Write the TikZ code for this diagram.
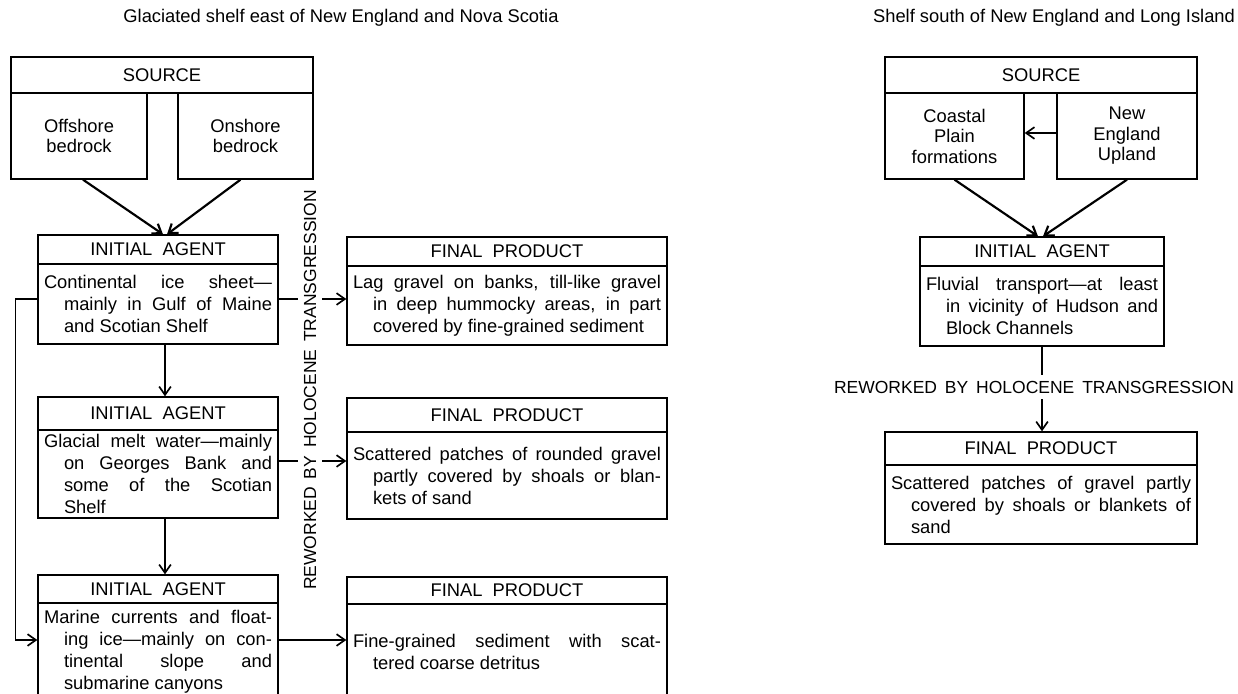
\documentclass[tikz,border=0pt]{standalone}
\usepackage{fontspec}
\setmainfont{Liberation Sans}
\usetikzlibrary{arrows.meta,calc}
\newcommand\hangtx[1]{\leavevmode\hangindent=12pt\hangafter=1\relax#1\par}
\newcommand\rwtext{REWORKED\hspace{0.45em}BY\hspace{0.45em}HOLOCENE\hspace{0.45em}TRANSGRESSION}

\begin{document}
\begin{tikzpicture}[x=0.6pt,y=-0.6pt,every node/.style={font=\fontsize{11}{13.2}\selectfont},
hd/.style 2 args={draw,line width=0.8pt,inner sep=0pt,minimum width=#1,minimum height=#2},
bd/.style 2 args={draw,line width=0.8pt,text width=#1,inner xsep=3.6pt,inner ysep=0pt,minimum height=#2,align=justify},
srcbox/.style 2 args={draw,line width=0.8pt,inner sep=0pt,minimum width=#1,minimum height=#2,align=center,font=\fontsize{11}{12.3}\selectfont},
arr/.style={-{Straight Barb[length=5pt,width=7pt]},line width=1pt},
thk/.style={arr,line width=1.3pt},
rw/.style={fill=white,inner sep=3.5pt,font=\fontsize{10.5}{12}\selectfont}]
\clip (0,0) rectangle (1238,693);
\node (t1) at (341,18) {Glaciated shelf east of New England and Nova Scotia};
\node (t2) at (1054,18) {Shelf south of New England and Long Island};
% left diagram
\node[hd={181.2pt}{21.6pt}] (src) at (162,75) {SOURCE};
\node[srcbox={81.6pt}{51.6pt}] (offsh) at (79,136) {Offshore\\bedrock};
\node[srcbox={81pt}{51.6pt}] (onsh) at (245.5,136) {Onshore\\bedrock};
\node[hd={144pt}{17.4pt}] (ag1h) at (158,249.5) {INITIAL\ \ AGENT};
\node[bd={136.8pt}{48pt}] (ag1) at (158,304) {\hangtx{Continental ice sheet—\linebreak mainly in Gulf of Maine\linebreak and Scotian Shelf}};
\node[hd={144pt}{19.8pt}] (ag2h) at (158,413.5) {INITIAL\ \ AGENT};
\node[bd={136.8pt}{52.8pt}] (ag2) at (158,474) {\hangtx{Glacial melt water—mainly\linebreak on Georges Bank and\linebreak some of the Scotian\linebreak Shelf}};
\node[hd={144pt}{16.8pt}] (ag3h) at (158,589) {INITIAL\ \ AGENT};
\node[bd={136.8pt}{58.2pt}] (ag3) at (158,651.5) {\hangtx{Marine currents and float-\linebreak ing ice—mainly on con-\linebreak tinental slope and\linebreak submarine canyons}};
\node[hd={192pt}{17.4pt}] (fp1h) at (507,251.5) {FINAL\ \ PRODUCT};
\node[bd={184.8pt}{47.4pt}] (fp1) at (507,305.5) {\hangtx{Lag gravel on banks, till-like gravel\linebreak in deep hummocky areas, in part\linebreak covered by fine-grained sediment}};
\node[hd={192pt}{20.4pt}] (fp2h) at (507,415) {FINAL\ \ PRODUCT};
\node[bd={184.8pt}{52.2pt}] (fp2) at (507,475.5) {\hangtx{Scattered patches of rounded gravel\linebreak partly covered by shoals or blan-\linebreak kets of sand}};
\node[hd={192pt}{16.2pt}] (fp3h) at (507,590.5) {FINAL\ \ PRODUCT};
\node[bd={184.8pt}{57.6pt}] (fp3) at (507,652) {\hangtx{Fine-grained sediment with scat-\linebreak tered coarse detritus}};
\draw[thk] ($(offsh.south)+(4,0)$) -- ($(ag1h.north)+(5,0)$);
\draw[thk] ($(onsh.south)+(-5,0)$) -- ($(ag1h.north)+(9,0)$);
\draw[arr] ($(ag1.south)+(7,0)$) -- ($(ag2h.north)+(7,0)$);
\draw[arr] ($(ag2.south)+(7,0)$) -- ($(ag3h.north)+(7,0)$);
\draw[arr] ($(ag1.west)+(0,-5)$) -- ++(-22,0) |- ($(ag3.west)+(0,-11.5)$);
\draw[arr] ($(ag1.east)+(0,-5)$) -- ($(ag1.east -| fp1.west)+(0,-5)$);
\draw[arr] ($(ag2.east)+(0,-13)$) -- ($(ag2.east -| fp2.west)+(0,-13)$);
\draw[arr] ($(ag3.east)+(0,-11.5)$) -- ($(ag3.east -| fp3.west)+(0,-11.5)$);
\node[rw,rotate=90] (rw1) at (310,390) {\rwtext};
% right diagram
\node[hd={187.2pt}{21.6pt}] (src2) at (1041,75) {SOURCE};
\node[srcbox={83.4pt}{51.6pt}] (coast) at (954.5,136) {Coastal\\Plain\\formations};
\node[srcbox={84pt}{51.6pt}] (nengl) at (1127,136) {New\\England\\Upland};
\node[hd={146.4pt}{17.4pt}] (ag4h) at (1042,251.5) {INITIAL\ \ AGENT};
\node[bd={139.2pt}{48pt}] (ag4) at (1042,306) {\hangtx{Fluvial transport—at least\linebreak in vicinity of Hudson and\linebreak Block Channels}};
\node[hd={187.2pt}{19.8pt}] (fp4h) at (1041,448.5) {FINAL\ \ PRODUCT};
\node[bd={180pt}{47.4pt}] (fp4) at (1041,504.5) {\hangtx{Scattered patches of gravel partly\linebreak covered by shoals or blankets of\linebreak sand}};
\draw[arr] ($(nengl.west)+(0,-3)$) -- ($(coast.east)+(0,-3)$);
\draw[thk] (coast.south) -- ($(ag4h.north)+(-4,0)$);
\draw[thk] (nengl.south) -- ($(ag4h.north)+(1,0)$);
\draw[arr] (ag4.south) -- (ag4.south |- fp4h.north);
\node[rw] (rw2) at (1034,387) {\rwtext};
\end{tikzpicture}
\end{document}
